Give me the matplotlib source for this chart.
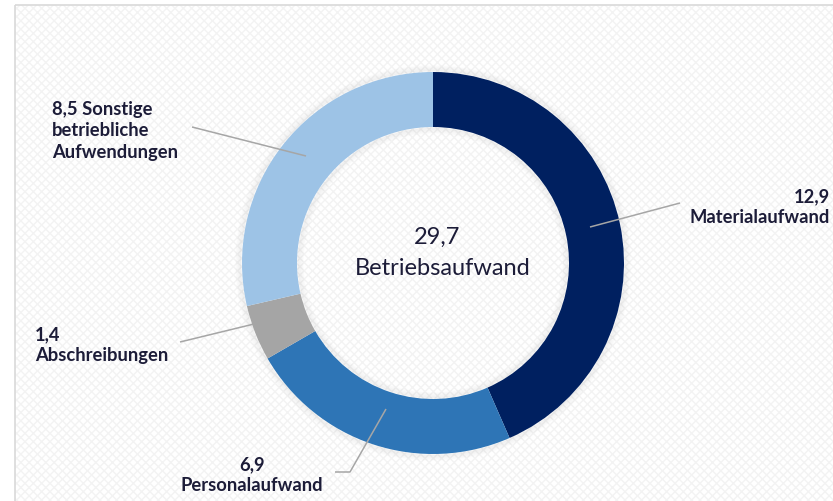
import matplotlib
matplotlib.use("Agg")
import matplotlib.pyplot as plt
from matplotlib.patches import Rectangle, Circle

# Betriebsaufwand, Mrd. (values as labelled in the chart)
categories = ["Materialaufwand", "Personalaufwand", "Abschreibungen",
              "Sonstige betriebliche Aufwendungen"]
values = [12.9, 6.9, 1.4, 8.5]
total_label = "Betriebsaufwand"
colors = ["#002060", "#2e75b6", "#a5a5a5", "#9dc3e6"]

TXT = "#1c1c38"
LINE = "#a6a6a6"
FONT = ["Lato", "DejaVu Sans"]


def de(v):
    return f"{v:.1f}".replace(".", ",")


fig = plt.figure(figsize=(8.33, 5.02), dpi=100)
ax = fig.add_axes([0, 0, 1, 1])

# background with faint texture and a light frame
ax.add_patch(Rectangle((15, 6), 840, 510, facecolor="white",
                       edgecolor="#f3f3f3", hatch="xxxx", lw=0, zorder=0))
ax.add_patch(Rectangle((15, 6), 840, 510, facecolor="none",
                       edgecolor="#d9d9d9", lw=1.2, zorder=1))

cx, cy, r_out, width = 433, 264, 191, 55
r_in = r_out - width

# soft shadow around the ring
for k in range(6):
    ax.add_patch(Circle((cx, cy), r_out + 1 + k, fill=False, lw=1.2,
                        edgecolor="#808080", alpha=0.07 - k * 0.01, zorder=2))
    ax.add_patch(Circle((cx, cy), r_in - 1 - k, fill=False, lw=1.2,
                        edgecolor="#808080", alpha=0.07 - k * 0.01, zorder=2))

# y axis is inverted (pixel coords), so counterclock=True draws clockwise
wedges, _ = ax.pie(values, colors=colors, startangle=-90, counterclock=True,
                   radius=r_out, center=(cx, cy), frame=True,
                   wedgeprops=dict(width=width, linewidth=0))
for w in wedges:
    w.set_zorder(3)

ax.set_xlim(0, 833)
ax.set_ylim(502, 0)
ax.set_aspect("auto")
ax.axis("off")

# centre label
ax.text(cx + 4, 237, de(sum(values)), ha="center", va="center",
        fontsize=17, color=TXT, family=FONT, zorder=5)
ax.text(cx + 10, 269, total_label, ha="center", va="center",
        fontsize=17, color=TXT, family=FONT, zorder=5)

# leader lines
lk = dict(color=LINE, lw=1.1, zorder=4, solid_capstyle="butt")
ax.plot([192, 306], [128, 157], **lk)
ax.plot([590, 680], [228, 204], **lk)
ax.plot([180, 254], [343, 325], **lk)
ax.plot([386, 350, 335], [410, 473, 473], **lk)

lab = dict(fontsize=13.2, fontweight="bold", color=TXT, family=FONT,
           va="center", zorder=5, linespacing=1.32)
ax.text(52, 131, f"{de(values[3])} Sonstige\nbetriebliche\nAufwendungen",
        ha="left", **lab)
ax.text(830, 207, f"{de(values[0])}\n{categories[0]}", ha="right", **lab)
ax.text(35, 345, f"{de(values[2])}\n{categories[2]}", ha="left", **lab)
ax.text(252, 475, f"{de(values[1])}\n{categories[1]}", ha="center", **lab)

fig.savefig("out.png", dpi=100)
